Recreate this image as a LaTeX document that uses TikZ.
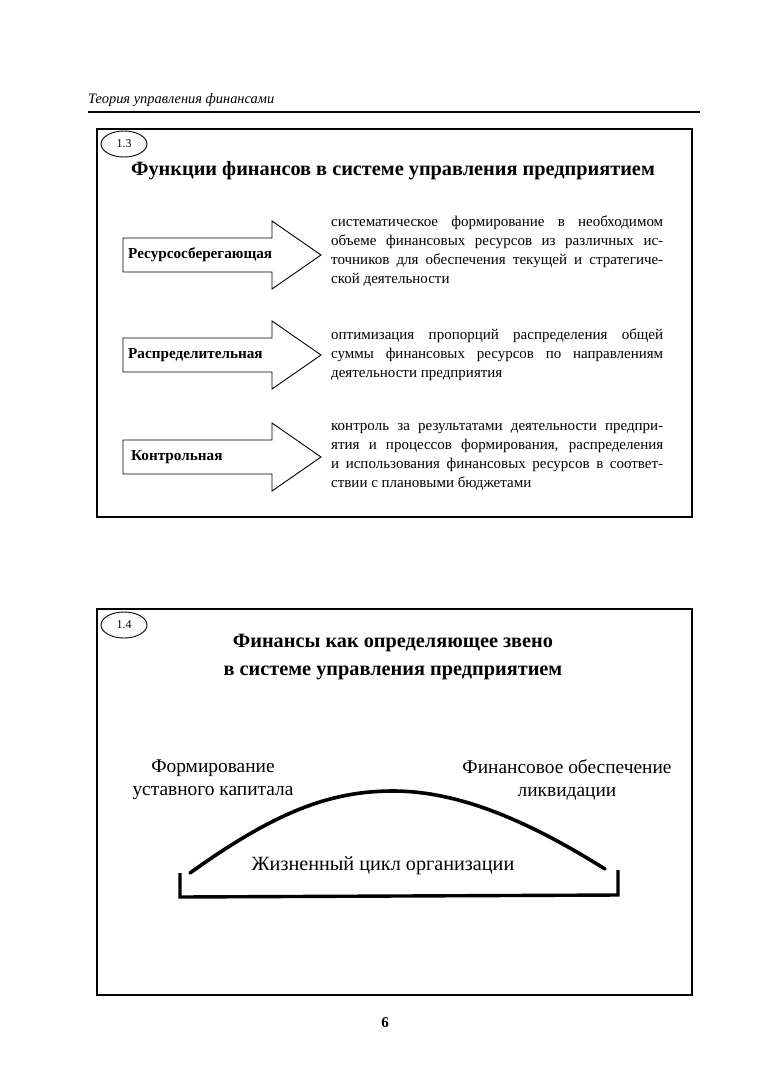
\documentclass[tikz,border=0pt]{standalone}
\usepackage{fontspec}
\setmainfont{Liberation Serif}
\usetikzlibrary{shapes.geometric}
\begin{document}
\begin{tikzpicture}[x=1pt,y=-1pt,
  frame/.style={draw, line width=1.2pt},
  numoval/.style={draw, ellipse, minimum width=46pt, minimum height=26pt, inner sep=0pt, line width=0.9pt, font=\fontsize{12}{12}\selectfont},
  fnarrow/.style={draw, line width=0.9pt, line join=miter},
  fnlabel/.style={anchor=west, inner sep=0pt, font=\bfseries\fontsize{15.2}{16}\selectfont},
  desc/.style={anchor=north west, align=left, inner sep=0pt, font=\fontsize{15}{19}\selectfont},
  ttl/.style={align=center, inner sep=0pt, font=\bfseries\fontsize{20.3}{28}\selectfont},
  big/.style={align=center, inner sep=0pt, font=\fontsize{19.4}{23}\selectfont},
  arch/.style={line width=3.6pt, line cap=round},
  bracket/.style={line width=3.4pt, line join=miter}
]
\useasboundingbox (0,0) rectangle (758,1080);
\fill[white] (0,0) rectangle (758,1080);

% header
\node[anchor=base west, inner sep=0pt, font=\itshape\fontsize{14.4}{15}\selectfont] (hdr) at (88,103) {Теория управления финансами};
\draw[line width=1.1pt] (88,112) -- (700,112);

% ---------- box 1.3
\draw[frame] (97,129) rectangle (692,517);
\node[numoval] (n13) at (124,144) {1.3};
\node[ttl] (t13) at (393,171) {Функции финансов в системе управления предприятием};

\newcommand{\fnarr}[1]{%
  \draw[fnarrow] (123,#1-17) -- (272,#1-17) -- (272,#1-34) -- (321,#1) -- (272,#1+34) -- (272,#1+17) -- (123,#1+17) -- cycle;}
\fnarr{255}
\fnarr{355}
\fnarr{457}
\node[fnlabel] (f1) at (128,255) {Ресурсосберегающая};
\node[fnlabel] (f2) at (128,355) {Распределительная};
\node[fnlabel] (f3) at (131,457) {Контрольная};

\newcommand{\jl}[1]{\makebox[332pt][s]{#1}}
\node[desc] (d1) at (331,216) {\jl{систематическое формирование в необходимом}\\
\jl{объеме финансовых ресурсов из различных ис-}\\
\jl{точников для обеспечения текущей и стратегиче-}\\
ской деятельности};
\node[desc] (d2) at (331,329) {\jl{оптимизация пропорций распределения общей}\\
\jl{суммы финансовых ресурсов по направлениям}\\
деятельности предприятия};
\node[desc] (d3) at (331,423) {\jl{контроль за результатами деятельности предпри-}\\
\jl{ятия и процессов формирования, распределения}\\
\jl{и использования финансовых ресурсов в соответ-}\\
ствии с плановыми бюджетами};

% ---------- box 1.4
\draw[frame] (97,609) rectangle (692,995);
\node[numoval] (n14) at (124,625) {1.4};
\node[ttl] (t14) at (393,657) {Финансы как определяющее звено\\в системе управления предприятием};

\node[big] (form) at (213,780) {Формирование\\уставного капитала};
\node[big] (liq) at (567,780) {Финансовое обеспечение\\ликвидации};
\node[big, font=\fontsize{20.2}{23}\selectfont] (life) at (383,866) {Жизненный цикл организации};

\draw[arch] (190,873) .. controls (275,812) and (330,791) .. (393,791) .. controls (460,791) and (530,822) .. (605,869);
\draw[bracket] (180,873) -- (180,897) -- (618,895) -- (618,870);

\node[inner sep=0pt, font=\bfseries\fontsize{15}{15}\selectfont] (pg) at (385,1023) {6};
\end{tikzpicture}
\end{document}
